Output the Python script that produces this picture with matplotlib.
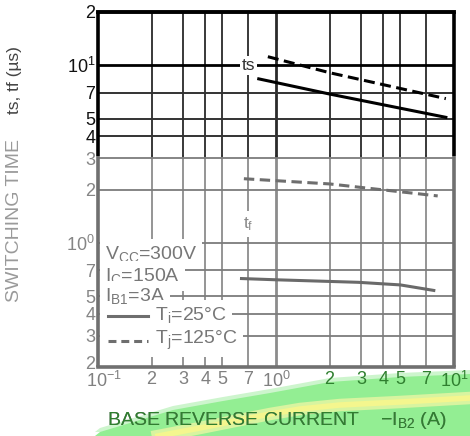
import numpy as np
import matplotlib
matplotlib.use("Agg")
import matplotlib.pyplot as plt
from matplotlib.patches import Polygon
from matplotlib.transforms import Affine2D, ScaledTranslation

plt.rcParams['font.family'] = ['Liberation Sans', 'DejaVu Sans']
plt.rcParams['mathtext.fontset'] = 'custom'
plt.rcParams['mathtext.rm'] = 'Liberation Sans'
plt.rcParams['mathtext.it'] = 'Liberation Sans'

# data (x = -IB2 in A, y = time in us)
ts25_x = [0.8, 2.0, 9.0]
ts25_y = [8.4, 6.9, 5.1]
ts125_x = [0.9, 2.0, 9.0]
ts125_y = [11.2, 9.1, 6.5]
tf25_x = [0.64, 1.0, 2.9, 5.0, 7.7]
tf25_y = [0.63, 0.62, 0.60, 0.58, 0.54]
tf125_x = [0.66, 2.0, 8.1]
tf125_y = [2.3, 2.15, 1.84]

xticks = [0.1, 0.2, 0.3, 0.4, 0.5, 0.7, 1, 2, 3, 4, 5, 7, 10]
xlabels = [r'$\mathregular{10^{-1}}$', '2', '3', '4', '5', '7', r'$\mathregular{10^{0}}$',
           '2', '3', '4', '5', '7', r'$\mathregular{10^{1}}$']
yticks = [0.2, 0.3, 0.4, 0.5, 0.7, 1, 2, 3, 4, 5, 7, 10, 20]
ylabels = ['2', '3', '4', '5', '7', r'$\mathregular{10^{0}}$', '2', '3', '4', '5', '7',
           r'$\mathregular{10^{1}}$', '2']

fade = 3.1  # the lower part of the scan is faded grey
grey = '#808080'
green_txt = '#2f7f2f'

W, H = 470, 436
fig = plt.figure(figsize=(W / 100, H / 100), dpi=100)
pxt = Affine2D().scale(1 / W, -1 / H).translate(0, 1) + fig.transFigure  # pixels from top-left
ax = fig.add_axes([98 / W, 1 - 367 / H, 356 / W, 355 / H])
ax.set_xscale('log')
ax.set_yscale('log')
ax.set_xlim(0.1, 10)
ax.set_ylim(0.2, 20)
for s in ax.spines.values():
    s.set_visible(False)
ax.minorticks_off()

# grid, dark above the fade line and grey below
for x in xticks[1:-1]:
    lw = 2.0 if x == 1 else 1.3
    ax.plot([x, x], [0.2, fade], color='#8c8c8c', lw=lw, zorder=1)
    ax.plot([x, x], [fade, 20], color='#2a2a2a', lw=lw, zorder=1)
for y in yticks[1:-1]:
    if y < fade:
        ax.axhline(y, color='#7c7c7c', lw=1.3, zorder=1)
    else:
        ax.axhline(y, color='#000000' if y == 10 else '#333333', lw=2.0 if y == 10 else 1.4, zorder=1)

# frame
for x in (0.1, 10):
    ax.plot([x, x], [0.2, fade], color='#707070', lw=2.6, zorder=5, clip_on=False, solid_capstyle='butt')
    ax.plot([x, x], [fade, 20], color='#000000', lw=2.6, zorder=5, clip_on=False, solid_capstyle='butt')
ax.plot([0.1, 10], [20, 20], color='#000000', lw=2.8, zorder=5, clip_on=False, solid_capstyle='projecting')
ax.plot([0.1, 10], [0.2, 0.2], color='#707070', lw=2.6, zorder=5, clip_on=False, solid_capstyle='projecting')

# curves
ax.plot(ts25_x, ts25_y, color='#000000', lw=2.2, zorder=4)
ax.plot(ts125_x, ts125_y, color='#000000', lw=2.2, dashes=(3.6, 1.8), zorder=4)
ax.plot(tf25_x, tf25_y, color='#6a6a6a', lw=2.2, zorder=4)
ax.plot(tf125_x, tf125_y, color='#6e6e6e', lw=2.2, dashes=(3.4, 1.8), zorder=4)

wb = dict(facecolor='white', edgecolor='none', pad=1.5)
ax.text(0.7, 10, 'ts', fontsize=12.5, color='#333333', ha='center', va='center', zorder=3, bbox=wb)
ax.text(0.7, 1.28, r't$_{\mathregular{f}}$', fontsize=12.5, color='#8a8a8a', ha='center', va='center',
        zorder=3, bbox=dict(facecolor='white', edgecolor='none', pad=3))

# conditions block
cond = [r'V$_{\mathregular{CC}}$=300V', r'I$_{\mathregular{C}}$=150A', r'I$_{\mathregular{B1}}$=3A']
cond_y = [254, 276, 296]
for t, py in zip(cond, cond_y):
    ax.text(105, py, t, fontsize=14, color='#777777', ha='left', va='center', zorder=3,
            transform=pxt, bbox=dict(facecolor='white', edgecolor='none', pad=3.5))
ax.text(155, 317, r'T$_{\mathregular{j}}$=25°C', fontsize=14, color='#777777', ha='left', va='center',
        zorder=3, transform=pxt, bbox=dict(facecolor='white', edgecolor='none', pad=4))
ax.text(155, 340, r'T$_{\mathregular{j}}$=125°C', fontsize=14, color='#777777', ha='left', va='center',
        zorder=3, transform=pxt, bbox=dict(facecolor='white', edgecolor='none', pad=4))
ax.fill([100, 150, 150, 100], [305, 305, 352, 352], color='white', zorder=2.5, transform=pxt)
ax.plot([108, 148], [316, 316], color='#6e6e6e', lw=2.2, zorder=4, transform=pxt)
ax.plot([108, 148], [341, 341], color='#6e6e6e', lw=2.2, dashes=(2.6, 1.6), zorder=4, transform=pxt)

# ticks
ax.set_xticks(xticks)
ax.set_xticklabels(xlabels)
ax.set_yticks(yticks)
ax.set_yticklabels(ylabels)
ax.tick_params(length=0, labelsize=13, pad=3)
ax.tick_params(axis='y', pad=2)
for i, lab in enumerate(ax.get_xticklabels()):
    lab.set_color(grey if xticks[i] <= 1 else green_txt)
first = ax.get_xticklabels()[0]
first.set_transform(first.get_transform() + ScaledTranslation(6 / 100, 0, fig.dpi_scale_trans))
for i, lab in enumerate(ax.get_yticklabels()):
    lab.set_color('#111111' if yticks[i] > fade else '#858585')
low = ax.get_yticklabels()[0]
low.set_transform(low.get_transform() + ScaledTranslation(0, 5 / 100, fig.dpi_scale_trans))

# axis titles
fig.text(15 / W, 1 - 80 / H, 'ts, tf (µs)', rotation=90, fontsize=12.5, color='#444444',
         ha='center', va='center')
fig.text(15 / W, 1 - 220 / H, 'SWITCHING TIME', rotation=90, fontsize=14, color='#9a9a9a',
         ha='center', va='center')
xl = r'BASE REVERSE CURRENT    $-$I$_{\mathregular{B2}}$ (A)'
fig.text(277 / W, 1 - 420 / H, xl, fontsize=14, color='#777777', ha='center', va='center', zorder=3)

# highlighter stroke across the bottom, under the axes and texts
band_pts = [(95, 436), (100, 432), (140, 420), (173, 410), (223, 401), (270, 393),
            (330, 382), (400, 377), (470, 374), (470, 436)]
halo = Polygon([(p[0], p[1] - 4) for p in band_pts[:-1]] + [(470, 436)], closed=True,
               facecolor='#cdf5cd', edgecolor='none', transform=pxt, zorder=-4)
band = Polygon(band_pts, closed=True, facecolor='#93ee93', edgecolor='none', transform=pxt, zorder=-3)
fig.patches.extend([halo, band])
streak_x = [158, 200, 240, 270, 300, 340, 400, 470]
streak_y = [436, 428, 420, 414, 409, 405, 402, 398]
fig.lines.append(plt.Line2D(streak_x, streak_y, color='#d8f4a0', lw=9, transform=pxt, zorder=-2))
fig.lines.append(plt.Line2D(streak_x, streak_y, color='#f4f68e', lw=4, transform=pxt, zorder=-1))
xg = fig.text(277 / W, 1 - 420 / H, xl, fontsize=14, color=green_txt, ha='center', va='center', zorder=4)
xg.set_clip_path(band)

fig.savefig('out.png', dpi=100)
